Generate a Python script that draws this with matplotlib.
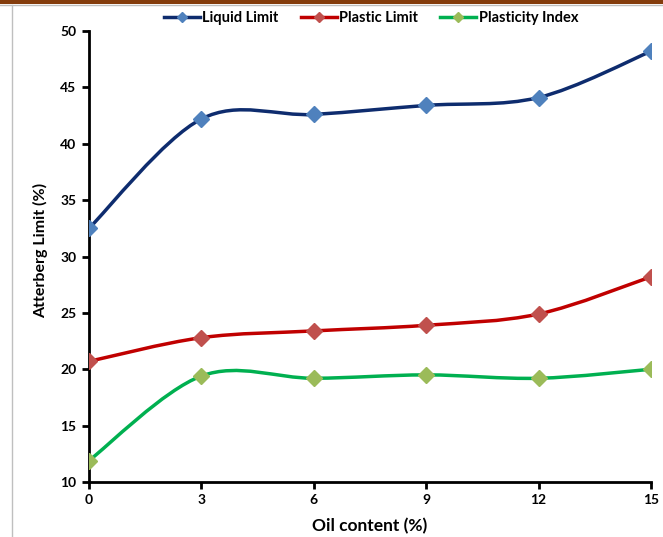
import matplotlib
matplotlib.use("Agg")
import matplotlib.pyplot as plt
from matplotlib.path import Path
from matplotlib.patches import PathPatch, Rectangle
from matplotlib.lines import Line2D
import numpy as np

oil = [0, 3, 6, 9, 12, 15]
liquid_limit = [32.5, 42.2, 42.6, 43.4, 44.1, 48.2]
plastic_limit = [20.7, 22.8, 23.4, 23.9, 24.9, 28.2]
plasticity_index = [11.9, 19.4, 19.2, 19.5, 19.2, 20.0]
yticks = [10, 15, 20, 25, 30, 35, 40, 45, 50]
xticks = [0, 3, 6, 9, 12, 15]

plt.rcParams['font.family'] = ['Lato', 'DejaVu Sans']

fig = plt.figure(figsize=(6.63, 5.37), dpi=100)
ax = fig.add_axes([89/663, 1-482/537, (651-89)/663, (482-31)/537])

def smooth_path(x, y):
    pts = np.column_stack([x, y]).astype(float)
    n = len(pts)
    verts = [pts[0]]
    codes = [Path.MOVETO]
    for i in range(n-1):
        p0 = pts[i-1] if i > 0 else pts[i]
        p1 = pts[i]
        p2 = pts[i+1]
        p3 = pts[i+2] if i+2 < n else pts[i+1]
        c1 = p1 + (p2 - p0) / 6.0
        c2 = p2 - (p3 - p1) / 6.0
        verts += [c1, c2, p2]
        codes += [Path.CURVE4]*3
    return Path(verts, codes)

series = [
    ("Liquid Limit", liquid_limit, "#0E2C6E", "#4F81BD"),
    ("Plastic Limit", plastic_limit, "#C00000", "#C0504D"),
    ("Plasticity Index", plasticity_index, "#00B050", "#9BBB59"),
]
handles = []
for name, vals, lc, mc in series:
    patch = PathPatch(smooth_path(oil, vals), facecolor='none', edgecolor=lc, lw=2.5, zorder=2)
    ax.add_patch(patch)
    ax.plot(oil, vals, linestyle='none', marker='D', markersize=8, color=mc, zorder=3)
    handles.append(Line2D([], [], color=lc, lw=2.5, marker='D', markersize=5,
                          markerfacecolor=mc, markeredgecolor=mc))

ax.set_xlim(0, 15)
ax.set_ylim(10, 50)
ax.set_xticks(xticks)
ax.set_yticks(yticks)
for s in ['top', 'right']:
    ax.spines[s].set_visible(False)
for s in ['left', 'bottom']:
    ax.spines[s].set_linewidth(2)
    ax.spines[s].set_color('black')
ax.tick_params(width=2, length=5, labelsize=10, pad=4)
for lab in ax.get_xticklabels() + ax.get_yticklabels():
    lab.set_fontweight('bold')
ax.set_xlabel("Oil content (%)", fontsize=12.5, fontweight='bold', labelpad=8)
ax.set_ylabel("Atterberg Limit (%)", fontsize=11.5, fontweight='bold')
ax.yaxis.set_label_coords(-0.073, 0.513)

fig.legend(handles, [s[0] for s in series], loc='center', bbox_to_anchor=(371/663, 1-18/537),
           ncol=3, frameon=False, prop={'weight': 'bold', 'size': 10.5},
           handlelength=2.5, columnspacing=1.5, handletextpad=0.15)

# frame decorations
fig.patches.append(Rectangle((0, 1-4/537), 1, 4/537, transform=fig.transFigure,
                             facecolor='#843C0C', edgecolor='none'))
fig.lines.append(Line2D([0, 1], [1-5/537, 1-5/537], transform=fig.transFigure, color='#BFBFBF', lw=1))
fig.lines.append(Line2D([11.5/663, 11.5/663], [0, 1-5/537], transform=fig.transFigure, color='#BFBFBF', lw=1))

fig.savefig("out.png", dpi=100)
